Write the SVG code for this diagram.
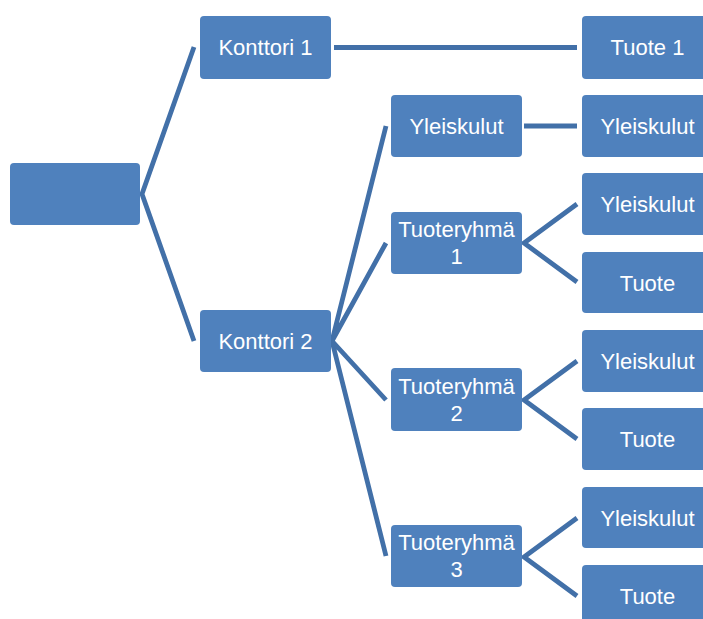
<svg xmlns="http://www.w3.org/2000/svg" width="703" height="619" viewBox="0 0 703 619">
<style>
.box{fill:#4F81BD;}
.t{fill:#FFFFFF;font-family:"Liberation Sans",Arial,sans-serif;font-size:22px;text-anchor:middle;}
.c{stroke:#4270A8;stroke-width:4.8;fill:none;stroke-linejoin:miter;}
</style>
<rect width="703" height="619" fill="#FFFFFF"/>
<g id="connectors">
<polyline class="c" points="194,47 142,194 194,341"/>
<line class="c" x1="334" y1="47.5" x2="577" y2="47.5"/>
<polyline class="c" points="386,126 332,341 386,243"/>
<polyline class="c" points="386,400 332,341 386,556"/>
<line class="c" x1="524" y1="126" x2="577" y2="126"/>
<polyline class="c" points="577,204 524,243 577,282"/>
<polyline class="c" points="577,361 524,400 577,439"/>
<polyline class="c" points="577,518 524,557 577,596"/>
</g>
<g id="root"><rect class="box" x="10" y="163" width="130" height="62" rx="4"/></g>
<g id="konttori1"><rect class="box" x="200" y="16" width="131" height="63" rx="4"/><text class="t" x="265.5" y="55">Konttori 1</text></g>
<g id="konttori2"><rect class="box" x="200" y="310" width="131" height="62" rx="4"/><text class="t" x="265.5" y="348.5">Konttori 2</text></g>
<g id="tuote1"><rect class="box" x="582" y="16" width="131" height="63" rx="4"/><text class="t" x="647.5" y="55">Tuote 1</text></g>
<g id="yleiskulut-k2"><rect class="box" x="391" y="95" width="131" height="62" rx="4"/><text class="t" x="456.5" y="134">Yleiskulut</text></g>
<g id="yleiskulut-k2-r"><rect class="box" x="582" y="95" width="131" height="62" rx="4"/><text class="t" x="647.5" y="134">Yleiskulut</text></g>
<g id="tuoteryhma1"><rect class="box" x="391" y="212" width="131" height="62" rx="4"/><text class="t" x="456.5" y="237">Tuoteryhmä</text><text class="t" x="456.5" y="264">1</text></g>
<g id="tuoteryhma2"><rect class="box" x="391" y="368" width="131" height="63" rx="4"/><text class="t" x="456.5" y="393.5">Tuoteryhmä</text><text class="t" x="456.5" y="420.5">2</text></g>
<g id="tuoteryhma3"><rect class="box" x="391" y="525" width="131" height="62" rx="4"/><text class="t" x="456.5" y="550">Tuoteryhmä</text><text class="t" x="456.5" y="577">3</text></g>
<g id="tr1-yleiskulut"><rect class="box" x="582" y="173" width="131" height="62" rx="4"/><text class="t" x="647.5" y="212">Yleiskulut</text></g>
<g id="tr1-tuote"><rect class="box" x="582" y="252" width="131" height="61" rx="4"/><text class="t" x="647.5" y="290.5">Tuote</text></g>
<g id="tr2-yleiskulut"><rect class="box" x="582" y="330" width="131" height="62" rx="4"/><text class="t" x="647.5" y="369">Yleiskulut</text></g>
<g id="tr2-tuote"><rect class="box" x="582" y="408" width="131" height="62" rx="4"/><text class="t" x="647.5" y="447">Tuote</text></g>
<g id="tr3-yleiskulut"><rect class="box" x="582" y="487" width="131" height="61" rx="4"/><text class="t" x="647.5" y="525.5">Yleiskulut</text></g>
<g id="tr3-tuote"><rect class="box" x="582" y="565" width="131" height="62" rx="4"/><text class="t" x="647.5" y="604">Tuote</text></g>
</svg>
